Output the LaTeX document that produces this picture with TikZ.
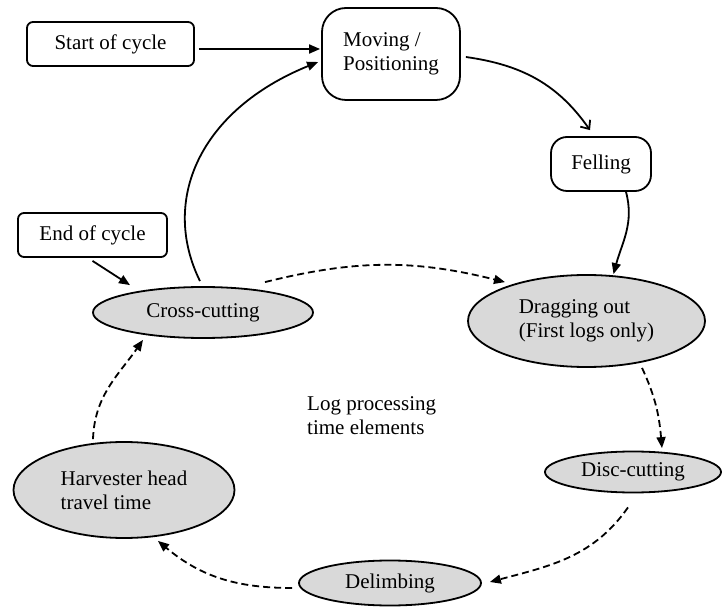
\documentclass[tikz,border=0pt]{standalone}
\usepackage{fontspec}
\setmainfont{Liberation Serif}
\usetikzlibrary{shapes.geometric,arrows.meta}
\definecolor{ellfill}{RGB}{217,217,217}
\begin{document}
\begin{tikzpicture}[x=1pt,y=-1pt,
  every node/.style={font=\fontsize{21}{24}\selectfont},
  rbox/.style={draw,line width=1.8pt,rounded corners=6pt,inner sep=0pt},
  ell/.style={draw,line width=1.8pt,ellipse,fill=ellfill,inner sep=0pt,align=left},
  arr/.style={line width=1.8pt,-{Triangle[length=11pt,width=9pt]}},
  darr/.style={line width=1.8pt,dash pattern=on 7pt off 4pt,-{Triangle[length=11pt,width=9pt]}},
  oarr/.style={line width=1.8pt,-{Straight Barb[length=7pt,width=12pt]}}
]
\useasboundingbox (0,0) rectangle (723,609);
\node[rbox,minimum width=167pt,minimum height=44pt] (start) at (110.5,44) {Start of cycle};
\node[rbox,rounded corners=24pt,minimum width=138pt,minimum height=92pt,align=left] (move) at (391,54) {Moving /\\Positioning};
\node[rbox,rounded corners=16pt,minimum width=100pt,minimum height=54pt] (fell) at (601,164) {Felling};
\node[rbox,minimum width=149pt,minimum height=44pt] (end) at (92.5,235) {End of cycle};
\node[ell,minimum width=220pt,minimum height=51pt] (cross) at (203,312.5) {Cross-cutting};
\node[ell,minimum width=237pt,minimum height=92pt] (drag) at (586.5,321) {Dragging out\\(First logs only)};
\node[ell,minimum width=176pt,minimum height=41pt] (disc) at (633,472) {Disc-cutting};
\node[ell,minimum width=182pt,minimum height=45pt] (delim) at (390,583) {Delimbing};
\node[ell,minimum width=221pt,minimum height=96pt] (harv) at (124,490) {Harvester head\\travel time};
\node[align=left,anchor=west,inner sep=0pt] (lbl) at (307,416) {Log processing\\time elements};

\draw[arr] ([xshift=4pt,yshift=-5pt]start.east) -- ([xshift=-1pt,yshift=-5pt]start.east -| move.west);
\draw[arr] ([xshift=-3pt,yshift=5pt]cross.north) .. controls (160,200) and (200,110) .. ([xshift=-3pt,yshift=-8pt]move.west);
\draw[oarr] ([xshift=5pt,yshift=-3pt]move.east) to[out=-8,in=125] ([xshift=-11pt,yshift=6pt]fell.north);
\draw[arr] ([xshift=25pt]fell.south) to[out=-75,in=75] ([xshift=27pt]drag.north);
\draw[arr] ([yshift=-3pt]end.south) -- ([xshift=-73pt,yshift=1pt]cross.north);
\draw[darr] ([xshift=62pt,yshift=4pt]cross.north) to[out=14,in=166] ([xshift=-81.5pt,yshift=-8pt]drag.north);
\draw[darr] ([xshift=55.5pt,yshift=0pt]drag.south) to[out=-65,in=95] ([xshift=29pt,yshift=2.5pt]disc.north);
\draw[darr] ([xshift=-5pt,yshift=-14pt]disc.south) to[out=235,in=15] ([xshift=8pt,yshift=1pt]delim.east);
\draw[darr] ([xshift=-6pt,yshift=-5pt]delim.west) to[out=180,in=-40] ([xshift=34pt,yshift=-2pt]harv.south);
\draw[darr] ([xshift=-31pt,yshift=2pt]harv.north) to[out=88,in=235] ([xshift=-60pt,yshift=-1pt]cross.south);
\end{tikzpicture}
\end{document}
